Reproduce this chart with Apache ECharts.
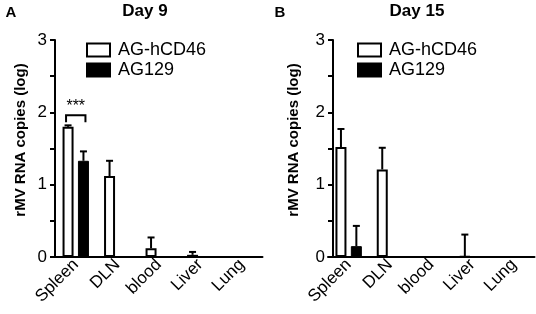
<!DOCTYPE html>
<html>
<head>
<meta charset="utf-8">
<script src="https://cdn.jsdelivr.net/npm/echarts@6/dist/echarts.min.js"></script>
<style>
  html, body { margin: 0; padding: 0; background: #fff; }
  #main { width: 536px; height: 314px; }
</style>
</head>
<body>
<div id="main"></div>
<script>
// tissues
var categories = ['Spleen', 'DLN', 'blood', 'Liver', 'Lung'];
var seriesNames = ['AG-hCD46', 'AG129'];
var yTicks = [0, 1, 2, 3];

// day 9 (log copies), mean and upper error
var day9_hcd46 = [1.80, 1.12, 0.12, 0.03, 0];
var day9_hcd46_err = [0.02, 0.21, 0.15, 0.04, 0];
var day9_ag129 = [1.33, 0, 0, 0, 0];
var day9_ag129_err = [0.13, 0, 0, 0, 0];

// day 15
var day15_hcd46 = [1.52, 1.21, 0, 0.01, 0];
var day15_hcd46_err = [0.25, 0.30, 0, 0.30, 0];
var day15_ag129 = [0.15, 0, 0, 0, 0];
var day15_ag129_err = [0.28, 0, 0, 0, 0];

// significance bracket on day 9 spleen
var sigMarks = [[0, 1.96, '***']];

var FONT = 'Liberation Sans, Arial, sans-serif';
var BAR_W = 11;
var BAR_OFF = 7.7; // half distance between paired bar centres

function errData(mean, err) {
  var out = [];
  for (var i = 0; i < mean.length; i++) {
    if (err[i] > 0) out.push([i, mean[i], mean[i] + err[i]]);
  }
  return out;
}

function errSeries(idx, mean, err, side) {
  return {
    type: 'custom',
    xAxisIndex: idx,
    yAxisIndex: idx,
    silent: true,
    z: 5,
    data: errData(mean, err),
    renderItem: function (params, api) {
      var lo = api.coord([api.value(0), api.value(1)]);
      var hi = api.coord([api.value(0), api.value(2)]);
      var x = lo[0] + side * BAR_OFF;
      return {
        type: 'group',
        children: [
          { type: 'line', shape: { x1: x, y1: lo[1], x2: x, y2: hi[1] }, style: { stroke: '#000', lineWidth: 2 } },
          { type: 'line', shape: { x1: x - 3.5, y1: hi[1], x2: x + 3.5, y2: hi[1] }, style: { stroke: '#000', lineWidth: 2 } }
        ]
      };
    }
  };
}

function sigSeries(idx) {
  return {
    type: 'custom',
    xAxisIndex: idx,
    yAxisIndex: idx,
    silent: true,
    z: 6,
    data: sigMarks,
    renderItem: function (params, api) {
      var p = api.coord([api.value(0), api.value(1)]);
      var x1 = p[0] - BAR_OFF - 2, x2 = p[0] + BAR_OFF + 2;
      return {
        type: 'group',
        children: [
          { type: 'polyline', shape: { points: [[x1, p[1] + 7], [x1, p[1]], [x2, p[1]], [x2, p[1] + 7]] }, style: { stroke: '#000', lineWidth: 2, fill: null } },
          { type: 'text', x: p[0], y: p[1] - 1, style: { text: sigMarks[params.dataIndex][2], fill: '#000', font: '16px ' + FONT, align: 'center', verticalAlign: 'bottom' } }
        ]
      };
    }
  };
}

function xAxis(idx) {
  return {
    type: 'category',
    gridIndex: idx,
    data: categories,
    boundaryGap: true,
    axisLine: { lineStyle: { color: '#000', width: 2 } },
    axisTick: { alignWithLabel: true, length: 5, lineStyle: { color: '#000', width: 2 } },
    axisLabel: { rotate: 45, color: '#000', fontSize: 17, fontFamily: FONT, margin: 5 }
  };
}

function yAxis(idx, offset) {
  return {
    type: 'value',
    gridIndex: idx,
    min: yTicks[0],
    max: yTicks[yTicks.length - 1],
    interval: 0.5,
    offset: offset,
    splitLine: { show: false },
    axisLine: { show: true, lineStyle: { color: '#000', width: 2 } },
    axisTick: { show: true, length: 5, lineStyle: { color: '#000', width: 2 } },
    axisLabel: {
      color: '#000', fontSize: 17, fontFamily: FONT, margin: 8,
      formatter: function (v) { return yTicks.indexOf(v) >= 0 ? String(v) : ''; }
    }
  };
}

function barSeries(idx, name, data, white) {
  return {
    name: name,
    type: 'bar',
    xAxisIndex: idx,
    yAxisIndex: idx,
    data: data,
    barWidth: BAR_W,
    barGap: '40%',
    itemStyle: white
      ? { color: '#fff', borderColor: '#000', borderWidth: 2 }
      : { color: '#000', borderColor: '#000', borderWidth: 1 }
  };
}

function legend(idx, left) {
  return {
    data: seriesNames.map(function (n) { return { name: n + (idx ? ' ' : '') }; }),
    orient: 'vertical',
    left: left,
    top: 40,
    padding: 0,
    icon: 'rect',
    itemWidth: 23,
    itemHeight: 13,
    itemGap: 0,
    textStyle: { color: '#000', fontSize: 18, lineHeight: 20, fontFamily: FONT, padding: [0, 0, 0, 3] },
    selectedMode: false
  };
}

function txt(x, y, text, size, rot) {
  return {
    type: 'text', x: x, y: y, rotation: rot || 0,
    style: { text: text, fill: '#000', font: 'bold ' + size + 'px ' + FONT, align: 'center', verticalAlign: 'middle' }
  };
}

var chart = echarts.init(document.getElementById('main'), null, { renderer: 'canvas' });

chart.setOption({
  backgroundColor: '#fff',
  animation: false,
  grid: [
    { left: 55, width: 207.5, top: 40, height: 217 },
    { left: 328, width: 206.5, top: 40, height: 217 }
  ],
  xAxis: [xAxis(0), xAxis(1)],
  yAxis: [yAxis(0, 0), yAxis(1, -5)],
  legend: [legend(0, 86), legend(1, 357)],
  graphic: [
    txt(11, 13, 'A', 15),
    txt(145, 11, 'Day 9', 17),
    txt(280, 13, 'B', 15),
    txt(417, 11, 'Day 15', 17),
    txt(21, 140, 'rMV RNA copies (log)', 15, Math.PI / 2),
    txt(294, 140, 'rMV RNA copies (log)', 15, Math.PI / 2)
  ],
  series: [
    barSeries(0, seriesNames[0], day9_hcd46, true),
    barSeries(0, seriesNames[1], day9_ag129, false),
    barSeries(1, seriesNames[0] + ' ', day15_hcd46, true),
    barSeries(1, seriesNames[1] + ' ', day15_ag129, false),
    errSeries(0, day9_hcd46, day9_hcd46_err, -1),
    errSeries(0, day9_ag129, day9_ag129_err, 1),
    errSeries(1, day15_hcd46, day15_hcd46_err, -1),
    errSeries(1, day15_ag129, day15_ag129_err, 1),
    sigSeries(0)
  ]
});
</script>
</body>
</html>
